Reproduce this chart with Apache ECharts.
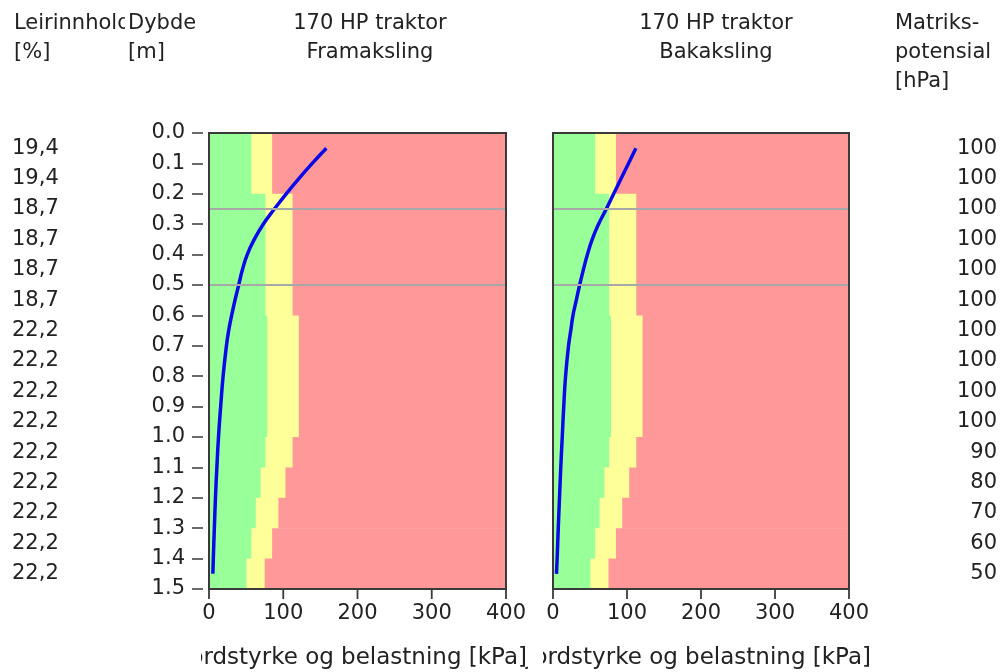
<!DOCTYPE html>
<html>
<head>
<meta charset="utf-8">
<script src="https://cdn.jsdelivr.net/npm/echarts@6/dist/echarts.min.js"></script>
<style>html,body{margin:0;padding:0;background:#fff}#c{width:1000px;height:672px}</style>
</head>
<body>
<div id="c"></div>
<script>
// ---- data ----
const layerTop    = [0.0, 0.2, 0.6, 1.0, 1.1, 1.2, 1.3, 1.4];
const layerBottom = [0.2, 0.6, 1.0, 1.1, 1.2, 1.3, 1.4, 1.5];
const greenLimit  = [57, 76, 78.5, 76, 69.5, 63, 57, 50.5];
const yellowLimit = [85, 112.5, 121, 112.5, 103, 93.5, 85, 75];

const curveDepth = [0.05, 0.1, 0.15, 0.2, 0.25, 0.3, 0.35, 0.4, 0.45, 0.5, 0.55, 0.6, 0.65, 0.7, 0.8, 0.9, 1.0, 1.1, 1.2, 1.3, 1.4, 1.45];
const frontLoad  = [158, 139, 121, 104, 88, 73, 61, 51.5, 45, 40, 35, 30.5, 26.5, 23.5, 19, 15.7, 12.8, 10.6, 8.7, 7.2, 5.8, 5.2];
const rearLoad   = [112, 102, 92, 82, 72, 61.5, 53, 46.5, 41, 36, 31.5, 27, 24, 21, 17, 14.5, 12.5, 10.5, 8.8, 7.1, 5.6, 4.7];

const rowDepth  = [0.05, 0.15, 0.25, 0.35, 0.45, 0.55, 0.65, 0.75, 0.85, 0.95, 1.05, 1.15, 1.25, 1.35, 1.45];
const clayPct   = ['19,4','19,4','18,7','18,7','18,7','18,7','22,2','22,2','22,2','22,2','22,2','22,2','22,2','22,2','22,2'];
const matricPot = ['100','100','100','100','100','100','100','100','100','100','90','80','70','60','50'];

const refLines = [0.25, 0.5];
const xTicks = [0, 100, 200, 300, 400];

const titles = [['170 HP traktor', 'Framaksling'], ['170 HP traktor', 'Bakaksling']];
const xName = 'Jordstyrke og belastning [kPa]';

// ---- styling ----
const FONT = '"DejaVu Sans", sans-serif';
const FS = 21;
const TXT = '#222';
const BORDER = '#3a3a3a';

const chart = echarts.init(document.getElementById('c'), null, {renderer: 'canvas'});

const zoneData = layerTop.map((t, i) => [t, layerBottom[i], greenLimit[i], yellowLimit[i]]);

function zoneRender(params, api) {
  const top = api.value(0), bot = api.value(1), g = api.value(2), y = api.value(3);
  const a = api.coord([0, top]);
  const pg = api.coord([g, bot]);
  const py = api.coord([y, bot]);
  const pr = api.coord([400, bot]);
  const h = pg[1] - a[1] + 0.6;
  return {
    type: 'group',
    children: [
      {type: 'rect', shape: {x: a[0], y: a[1], width: pg[0] - a[0] + 0.6, height: h}, style: {fill: '#99ff99'}},
      {type: 'rect', shape: {x: pg[0], y: a[1], width: py[0] - pg[0] + 0.6, height: h}, style: {fill: '#ffff99'}},
      {type: 'rect', shape: {x: py[0], y: a[1], width: pr[0] - py[0], height: h}, style: {fill: '#ff9999'}}
    ]
  };
}

function frameRender(params, api) {
  const a = api.coord([0, 0]);
  const b = api.coord([400, 1.5]);
  return {
    type: 'rect',
    shape: {x: a[0], y: a[1], width: b[0] - a[0], height: b[1] - a[1]},
    style: {fill: null, stroke: BORDER, lineWidth: 2}
  };
}

function tickRender(params, api) {
  const p = api.coord([api.value(0), 1.5]);
  return {
    type: 'line',
    shape: {x1: p[0], y1: p[1], x2: p[0], y2: p[1] + 10},
    style: {stroke: BORDER, lineWidth: 1.8}
  };
}

function columnRender(texts, px, align) {
  return function (params, api) {
    const p = api.coord([0, api.value(1)]);
    return {
      type: 'text',
      x: px, y: p[1],
      style: {text: texts[params.dataIndex], font: FS + 'px ' + FONT, fill: TXT, align: align, verticalAlign: 'middle'}
    };
  };
}

const grids = [
  {left: 209, right: 494, top: 133, bottom: 83},
  {left: 553, right: 151, top: 133, bottom: 83}
];

const xAxes = [], yAxes = [], series = [];
grids.forEach((g, gi) => {
  xAxes.push({
    gridIndex: gi, type: 'value', min: 0, max: 400, interval: 100, position: 'bottom',
    axisLine: {show: false, onZero: false},
    axisTick: {show: false},
    axisLabel: {margin: 14, color: TXT, fontSize: FS, fontFamily: FONT},
    splitLine: {show: false}
  });
  yAxes.push({
    gridIndex: gi, type: 'value', min: 0, max: 1.5, interval: 0.1, inverse: true, position: 'left', offset: 6,
    axisLine: {show: false, onZero: false},
    axisTick: {show: gi === 0, inside: false, length: 11, lineStyle: {color: BORDER, width: 1.5}},
    axisLabel: {show: gi === 0, margin: 18, color: TXT, fontSize: FS, fontFamily: FONT,
      formatter: v => v.toFixed(1)},
    splitLine: {show: false}
  });
  series.push({
    type: 'custom', xAxisIndex: gi, yAxisIndex: gi, z: 1,
    renderItem: zoneRender, data: zoneData,
    encode: {x: [2, 3], y: [0, 1]},
    silent: true,
    markLine: {
      silent: true, symbol: 'none', animation: false,
      label: {show: false},
      lineStyle: {color: '#a8a8a8', width: 2, type: 'solid'},
      data: refLines.map(v => ({yAxis: v}))
    }
  });
  const load = gi === 0 ? frontLoad : rearLoad;
  series.push({
    type: 'line', xAxisIndex: gi, yAxisIndex: gi, z: 3,
    data: curveDepth.map((d, i) => [load[i], d]),
    smooth: 0.5, symbol: 'none',
    lineStyle: {color: '#0a0ae8', width: 3.5}
  });
  series.push({
    type: 'custom', xAxisIndex: gi, yAxisIndex: gi, z: 5, clip: false, silent: true,
    renderItem: frameRender, data: [[0, 0]], encode: {x: 0, y: 1}
  });
  series.push({
    type: 'custom', xAxisIndex: gi, yAxisIndex: gi, z: 5, clip: false, silent: true,
    renderItem: tickRender, data: xTicks.map(v => [v, 1.5]), encode: {x: 0, y: 1}
  });
});

// side columns (positioned vertically by the depth axis of the left panel)
series.push({
  type: 'custom', xAxisIndex: 0, yAxisIndex: 0, clip: false, silent: true,
  renderItem: columnRender(clayPct, 12, 'left'),
  data: rowDepth.map(d => [0, d]), encode: {x: 0, y: 1}
});
series.push({
  type: 'custom', xAxisIndex: 0, yAxisIndex: 0, clip: false, silent: true,
  renderItem: columnRender(matricPot, 997, 'right'),
  data: rowDepth.map(d => [0, d]), encode: {x: 0, y: 1}
});

function t(text, x, y, align, extra, fs) {
  return Object.assign({
    type: 'text', x: x, y: y, z: 20,
    style: {text: text, font: (fs || FS) + 'px ' + FONT, fill: TXT, align: align || 'left', verticalAlign: 'middle'}
  }, extra || {});
}

const graphic = [
  t('Leirinnhold', 14, 24),
  {type: 'rect', shape: {x: 125, y: 8, width: 70, height: 60}, style: {fill: '#fff'}, z: 21},
  t('Dybde', 128, 24, 'left', {z: 22}),
  t('[%]', 14, 53),
  t('[m]', 128, 53, 'left', {z: 22}),
  t(titles[0][0], 370, 24, 'center'),
  t(titles[0][1], 370, 53, 'center'),
  t(titles[1][0], 716, 24, 'center'),
  t(titles[1][1], 716, 53, 'center'),
  t('Matriks-', 895, 24),
  t('potensial', 895, 53),
  t('[hPa]', 895, 82),
  t(xName, 871, 658, 'right', null, 23),
  {type: 'rect', shape: {x: 528, y: 640, width: 15, height: 32}, style: {fill: '#fff'}, z: 21},
  t(xName, 527, 658, 'right', {z: 22}, 23),
  {type: 'rect', shape: {x: 160, y: 640, width: 41, height: 32}, style: {fill: '#fff'}, z: 23}
];

chart.setOption({
  animation: false,
  backgroundColor: '#fff',
  grid: grids,
  xAxis: xAxes,
  yAxis: yAxes,
  series: series,
  graphic: graphic
});
</script>
</body>
</html>
